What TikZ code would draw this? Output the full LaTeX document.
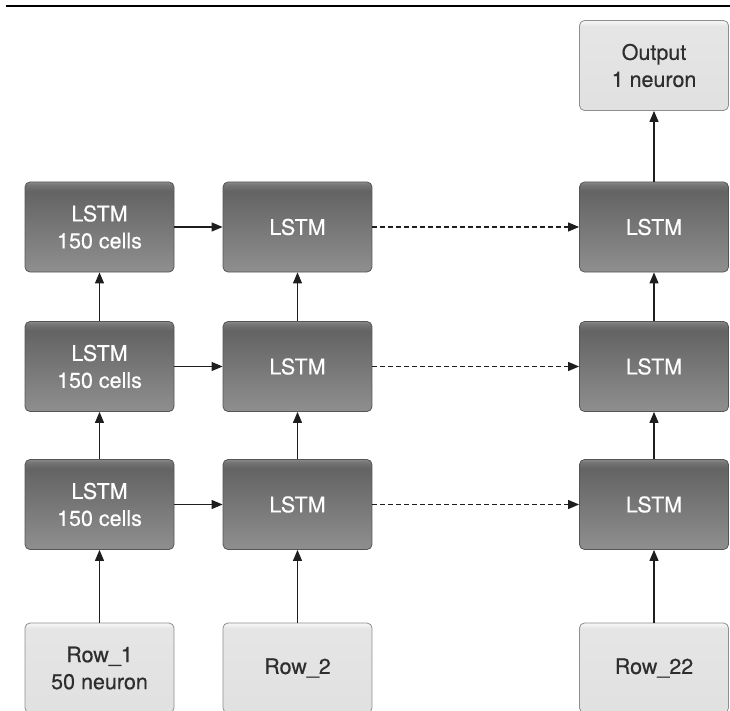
\documentclass[tikz,border=0pt]{standalone}
\usepackage{fontspec}
\setmainfont{TeX Gyre Heros}
\usetikzlibrary{arrows.meta}
\definecolor{txtdark}{HTML}{2E2E2E}
\definecolor{bordark}{HTML}{555555}
\definecolor{borlight}{HTML}{8E8E8E}
\definecolor{arrowcol}{HTML}{1E1E1E}
\pgfdeclareverticalshading{darkshade}{100bp}{color(0bp)=(black!44); color(25bp)=(black!44); color(70bp)=(black!61); color(73.5bp)=(black!54); color(75bp)=(black!46); color(100bp)=(black!46)}
\pgfdeclareverticalshading{lightshade}{100bp}{color(0bp)=(black!12); color(25bp)=(black!12); color(72bp)=(black!10); color(74bp)=(black!5); color(75bp)=(black!4); color(100bp)=(black!4)}
\tikzset{
  box/.style={rounded corners=5pt, minimum width=149pt, minimum height=90pt, inner sep=0pt, align=center, font=\fontsize{21.5}{27}\selectfont\addfontfeature{FakeBold=0.4}},
  lstmbox/.style={box, draw=bordark, line width=0.8pt, shading=darkshade, text=white},
  lightbox/.style={box, draw=borlight, line width=0.8pt, shading=lightshade, text=txtdark},
  conn/.style={draw=arrowcol, line width=1.15pt, -{Triangle[length=11pt,width=9pt]}},
  dconn/.style={conn, dash pattern=on 4.5pt off 3.5pt}
}
\begin{document}
\begin{tikzpicture}[x=1pt,y=-1pt]
\useasboundingbox (0,0) rectangle (730,711);
\coordinate (rl) at (6,6);
\coordinate (rr) at (730,6);
\draw[line width=1.4pt, black] (rl) -- (rr);

% columns: 99.5, 297.5, 654 ; rows: 227, 366.5, 504.5
\node[lstmbox] (a3) at (99.5,227) {LSTM\\150 cells};
\node[lstmbox] (a2) at (99.5,366.5) {LSTM\\150 cells};
\node[lstmbox] (a1) at (99.5,504.5) {LSTM\\150 cells};
\node[lstmbox] (b3) at (297.5,227) {LSTM};
\node[lstmbox] (b2) at (297.5,366.5) {LSTM};
\node[lstmbox] (b1) at (297.5,504.5) {LSTM};
\node[lstmbox] (c3) at (654,227) {LSTM};
\node[lstmbox] (c2) at (654,366.5) {LSTM};
\node[lstmbox] (c1) at (654,504.5) {LSTM};

\node[lightbox] (out) at (654,65.5) {Output\\1 neuron};
\node[lightbox] (r1) at (99.5,668) {Row\_1\\50 neuron};
\node[lightbox] (r2) at (297.5,668) {Row\_2};
\node[lightbox] (r22) at (654,668) {Row\_22};

% vertical
\draw[conn] (r1) -- (a1);
\draw[conn] (a1) -- (a2);
\draw[conn] (a2) -- (a3);
\draw[conn] (r2) -- (b1);
\draw[conn] (b1) -- (b2);
\draw[conn] (b2) -- (b3);
\draw[conn] (r22) -- (c1);
\draw[conn] (c1) -- (c2);
\draw[conn] (c2) -- (c3);
\draw[conn] (c3) -- (out);
% horizontal
\draw[conn] (a1) -- (b1);
\draw[conn] (a2) -- (b2);
\draw[conn] (a3) -- (b3);
\draw[dconn] (b1) -- (c1);
\draw[dconn] (b2) -- (c2);
\draw[dconn] (b3) -- (c3);
\end{tikzpicture}
\end{document}
